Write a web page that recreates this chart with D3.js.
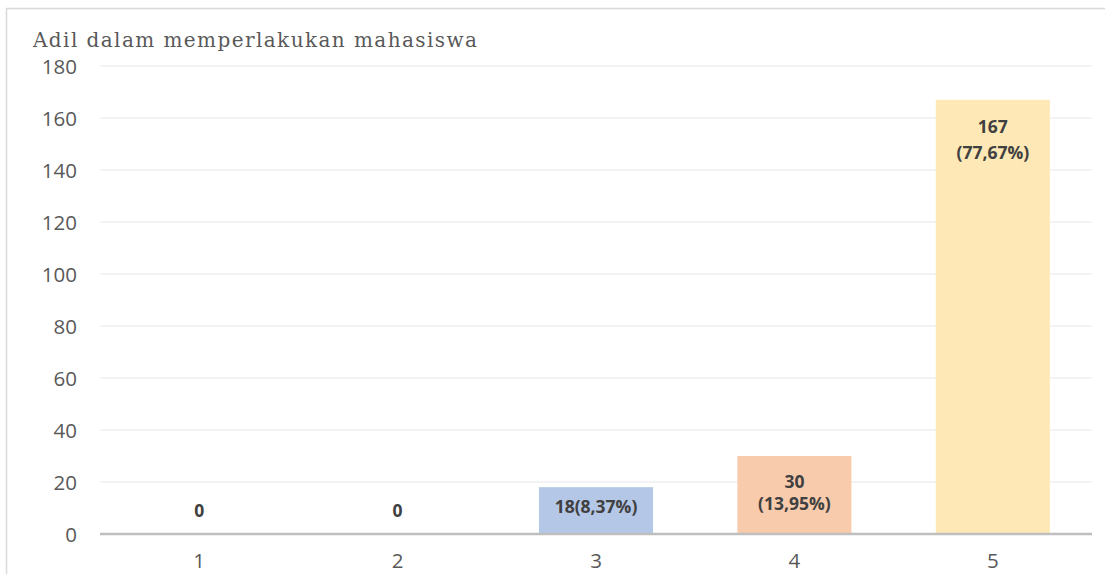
<!DOCTYPE html>
<html>
<head>
<meta charset="utf-8">
<script src="https://cdn.jsdelivr.net/npm/d3@7"></script>
<style>
  html, body { margin: 0; padding: 0; background: #ffffff; }
  svg { display: block; }
</style>
</head>
<body>
<svg id="chart" width="1105" height="574"></svg>
<script>
// Response scale categories and counts
const categories = ["1", "2", "3", "4", "5"];
const counts = [0, 0, 18, 30, 167];
const percentLabels = ["", "", "8,37%", "13,95%", "77,67%"];
const barColors = ["#b4c7e7", "#b4c7e7", "#b4c7e7", "#f8cbad", "#fee8b6"];
const yTicks = [0, 20, 40, 60, 80, 100, 120, 140, 160, 180];
const title = "Adil dalam memperlakukan mahasiswa";

const svg = d3.select("#chart");
const W = 1105, H = 574;
const margin = { left: 100, right: 13, top: 66, bottom: 40 };
const sansFont = "'Open Sans', 'Liberation Sans', sans-serif";

// outer frame
svg.append("rect")
  .attr("x", 6.5).attr("y", 8.5)
  .attr("width", W + 10).attr("height", H + 10)
  .attr("fill", "#ffffff")
  .attr("stroke", "#d9d9d9").attr("stroke-width", 1.5);

const x = d3.scaleBand()
  .domain(categories)
  .range([margin.left, W - margin.right])
  .paddingInner(0.425).paddingOuter(0.2125);

const y = d3.scaleLinear()
  .domain([0, 180])
  .range([H - margin.bottom, margin.top]);

// gridlines
svg.append("g")
  .selectAll("line")
  .data(yTicks.filter(d => d > 0))
  .join("line")
  .attr("x1", margin.left).attr("x2", W - margin.right)
  .attr("y1", d => y(d)).attr("y2", d => y(d))
  .attr("stroke", "#efefef").attr("stroke-width", 1.5);

// y axis labels
const yAxis = d3.axisLeft(y).tickValues(yTicks).tickSize(0).tickPadding(23);
const gy = svg.append("g")
  .attr("transform", `translate(${margin.left},0)`)
  .call(yAxis);
gy.select(".domain").remove();
gy.selectAll("text")
  .attr("font-family", sansFont)
  .attr("font-size", 20.5)
  .attr("fill", "#595959")
  .attr("dy", "0.36em");

// bars
svg.append("g")
  .selectAll("rect")
  .data(categories)
  .join("rect")
  .attr("x", d => x(d))
  .attr("y", (d, i) => y(counts[i]))
  .attr("width", x.bandwidth())
  .attr("height", (d, i) => y(0) - y(counts[i]))
  .attr("fill", (d, i) => barColors[i]);

// x axis
const xAxis = d3.axisBottom(x).tickSize(0).tickPadding(0);
const gx = svg.append("g")
  .attr("transform", `translate(0,${y(0)})`)
  .call(xAxis);
gx.select(".domain")
  .attr("stroke", "#bfbfbf").attr("stroke-width", 2.5)
  .attr("d", `M${margin.left},0H${W - margin.right}`);
gx.selectAll("text")
  .attr("font-family", sansFont)
  .attr("font-size", 20.5)
  .attr("fill", "#595959")
  .attr("dy", null)
  .attr("y", 33.5);

// data labels
const lbl = svg.append("g")
  .attr("font-family", sansFont)
  .attr("font-size", 17.5)
  .attr("font-weight", "bold")
  .attr("fill", "#404040")
  .attr("text-anchor", "middle");

categories.forEach((c, i) => {
  const cx = x(c) + x.bandwidth() / 2;
  const v = counts[i];
  if (v === 0) {
    lbl.append("text").attr("x", cx).attr("y", y(0) - 17).text(String(v));
  } else if (v < 25) {
    lbl.append("text").attr("x", cx).attr("y", y(v) + 26)
      .text(`${v}(${percentLabels[i]})`);
  } else if (v < 100) {
    lbl.append("text").attr("x", cx).attr("y", y(v) + 32).text(String(v));
    lbl.append("text").attr("x", cx).attr("y", y(v) + 54).text(`(${percentLabels[i]})`);
  } else {
    lbl.append("text").attr("x", cx).attr("y", y(v) + 33).text(String(v));
    lbl.append("text").attr("x", cx).attr("y", y(v) + 59).text(`(${percentLabels[i]})`);
  }
});

// title
svg.append("text")
  .attr("x", 33).attr("y", 47)
  .attr("font-family", "'DejaVu Serif', 'Liberation Serif', serif")
  .attr("font-size", 20)
  .attr("fill", "#595959")
  .attr("textLength", 444)
  .attr("lengthAdjust", "spacing")
  .text(title);
</script>
</body>
</html>
